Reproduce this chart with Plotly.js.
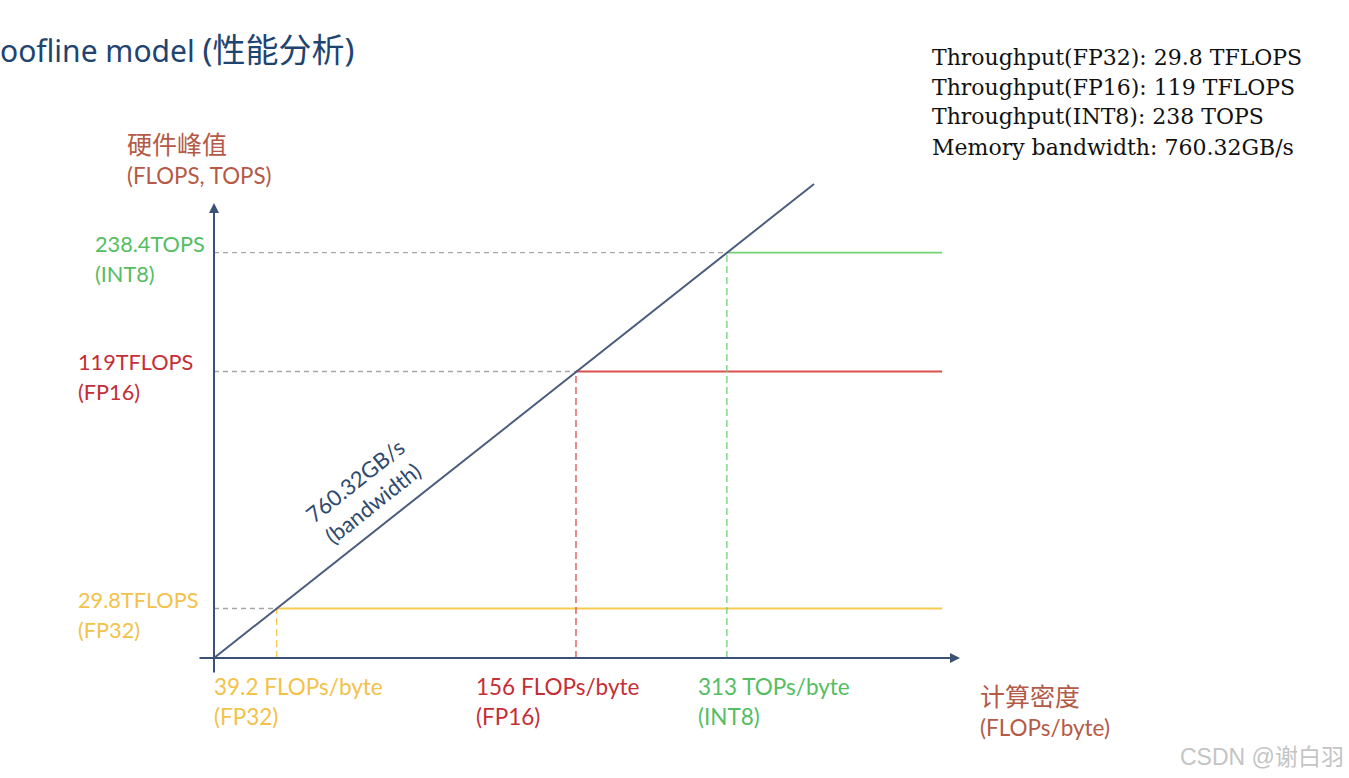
<!DOCTYPE html>
<html>
<head>
<meta charset="utf-8">
<script src="https://cdn.plot.ly/plotly-3.0.1.min.js"></script>
<style>html,body{margin:0;padding:0;background:#fff;}#chart{width:1349px;height:778px;}</style>
</head>
<body>
<div id="chart"></div>
<script>
// ---- data ----
const precisions   = ['FP32', 'FP16', 'INT8'];
const peakPerf     = [29.8, 119, 238.4];          // TFLOPS / TOPS
const peakLabels   = ['29.8TFLOPS', '119TFLOPS', '238.4TOPS'];
const ridgeIntens  = [39.2, 156, 313];            // FLOPs/byte at ridge point
const ridgeLabels  = ['39.2 FLOPs/byte', '156 FLOPs/byte', '313 TOPs/byte'];
const bandwidthGBs = 760.32;                      // GB/s
const specLines    = ['Throughput(FP32): 29.8 TFLOPS', 'Throughput(FP16): 119 TFLOPS',
                      'Throughput(INT8): 238 TOPS', 'Memory bandwidth: 760.32GB/s'];

// ---- styling / layout ----
const colors    = {FP32: '#F2C24A', FP16: '#C42E36', INT8: '#55BD62'};
const lineCols  = {FP32: '#F5CA4E', FP16: '#D9504C', INT8: '#74D074'};
const W = 1349, H = 778;
const L = 214, R = 980, T = 150, B = 658;
const xRange = [1.4677, 3.0028];
const yRange = [1.3487, 2.6374];
const xMin = Math.pow(10, xRange[0]);
const yMin = Math.pow(10, yRange[0]);
const roofEnd = 845;       // right extent of the flat roofs
const diagEnd = 468;       // right extent of the bandwidth slope
const bwT = bandwidthGBs / 1000;   // TB/s -> TFLOPS per FLOP/byte

const px = v => (v - L) / (R - L);
const py = v => (B - v) / (B - T);

const traces = [];
precisions.forEach((p, i) => {
  traces.push({x: [xMin, ridgeIntens[i]], y: [peakPerf[i], peakPerf[i]], mode: 'lines',
    line: {color: '#A6A6A6', width: 1.3, dash: '5px,4px'}});
  traces.push({x: [ridgeIntens[i], ridgeIntens[i]], y: [yMin, peakPerf[i]], mode: 'lines',
    line: {color: lineCols[p], width: 1.3, dash: '7px,4px'}});
  traces.push({x: [ridgeIntens[i], roofEnd], y: [peakPerf[i], peakPerf[i]], mode: 'lines',
    line: {color: lineCols[p], width: 1.8}});
});
traces.push({x: [xMin, diagEnd], y: [xMin * bwT, diagEnd * bwT], mode: 'lines',
  line: {color: '#4B5D7C', width: 2}});

const lab = "Lato, 'Noto Sans CJK SC', sans-serif";
const ann = [];
// axes arrows
ann.push({xref: 'paper', yref: 'paper', x: px(960), y: py(658), ax: -(960 - 198), ay: 0,
  showarrow: true, arrowhead: 2, arrowsize: 1, arrowwidth: 2, arrowcolor: '#3B5276', standoff: 0, text: ''});
ann.push({xref: 'paper', yref: 'paper', x: px(214), y: py(203), ax: 0, ay: 674 - 203,
  showarrow: true, arrowhead: 2, arrowsize: 1, arrowwidth: 2, arrowcolor: '#3B5276', standoff: 0, text: ''});

// peak labels (y side)
const peakLeft = [76, 76, 93];
precisions.forEach((p, i) => {
  ann.push({xref: 'paper', yref: 'y', x: px(peakLeft[i]), y: Math.log10(peakPerf[i]), xanchor: 'left', yanchor: 'middle',
    yshift: 9, showarrow: false, text: peakLabels[i], font: {family: lab, size: 21.7, color: colors[p]}});
  ann.push({xref: 'paper', yref: 'y', x: px(peakLeft[i]), y: Math.log10(peakPerf[i]), xanchor: 'left', yanchor: 'middle',
    yshift: -21, showarrow: false, text: '(' + p + ')', font: {family: lab, size: 21.7, color: colors[p]}});
});
// ridge labels (x side)
const ridgeLeft = [212, 474, 696];
precisions.forEach((p, i) => {
  ann.push({xref: 'paper', yref: 'paper', x: px(ridgeLeft[i]), y: py(686), xanchor: 'left', yanchor: 'middle',
    showarrow: false, text: ridgeLabels[i], font: {family: lab, size: 22.5, color: colors[p]}});
  ann.push({xref: 'paper', yref: 'paper', x: px(ridgeLeft[i]), y: py(716), xanchor: 'left', yanchor: 'middle',
    showarrow: false, text: '(' + p + ')', font: {family: lab, size: 22.5, color: colors[p]}});
});
// axis titles
const titleCol = '#B45A46';
ann.push({xref: 'paper', yref: 'paper', x: px(125), y: py(143), xanchor: 'left', yanchor: 'middle', showarrow: false,
  text: '硬件峰值', font: {family: "'Noto Sans CJK SC', sans-serif", size: 25, color: titleCol}});
ann.push({xref: 'paper', yref: 'paper', x: px(125), y: py(175), xanchor: 'left', yanchor: 'middle', showarrow: false,
  text: '(FLOPS, TOPS)', font: {family: lab, size: 22.3, color: titleCol}});
ann.push({xref: 'paper', yref: 'paper', x: px(978), y: py(695), xanchor: 'left', yanchor: 'middle', showarrow: false,
  text: '计算密度', font: {family: "'Noto Sans CJK SC', sans-serif", size: 25, color: titleCol}});
ann.push({xref: 'paper', yref: 'paper', x: px(978), y: py(727), xanchor: 'left', yanchor: 'middle', showarrow: false,
  text: '(FLOPs/byte)', font: {family: lab, size: 22.5, color: titleCol}});
// slope label
ann.push({xref: 'paper', yref: 'paper', x: px(364), y: py(492), xanchor: 'center', yanchor: 'middle', showarrow: false,
  textangle: -38.4, align: 'center', text: bandwidthGBs + 'GB/s<br>(bandwidth)',
  font: {family: lab, size: 22, color: '#2F4A70'}});
// page title (its first letter is cut off at the left edge of the original)
ann.push({xref: 'paper', yref: 'paper', x: px(-2), y: py(50), xanchor: 'left', yanchor: 'middle', showarrow: false,
  text: 'oofline model <span style="font-size:33px">(性能分析)</span>',
  font: {family: "'Noto Sans', 'Noto Sans CJK SC', sans-serif", size: 30, color: '#1F4470'}});
// spec lines
specLines.forEach((s, i) => {
  ann.push({xref: 'paper', yref: 'paper', x: px(930), y: py(57 + 30 * i), xanchor: 'left', yanchor: 'middle', showarrow: false,
    text: s, font: {family: "'DejaVu Serif', serif", size: 22, color: '#111111'}});
});
// watermark
ann.push({xref: 'paper', yref: 'paper', x: px(1346), y: py(757), xanchor: 'right', yanchor: 'middle', showarrow: false,
  text: 'CSDN @谢白羽', font: {family: "'Liberation Sans', 'Noto Sans CJK SC', sans-serif", size: 23, color: '#C4C4C4'}});

const layout = {
  width: W, height: H,
  margin: {l: L, r: W - R, t: T, b: H - B, pad: 0},
  paper_bgcolor: '#ffffff', plot_bgcolor: '#ffffff',
  showlegend: false, hovermode: false,
  xaxis: {type: 'log', range: xRange, showgrid: false, zeroline: false, showline: false,
          showticklabels: false, ticks: ''},
  yaxis: {type: 'log', range: yRange, showgrid: false, zeroline: false, showline: false,
          showticklabels: false, ticks: ''},
  annotations: ann
};
Plotly.newPlot('chart', traces, layout, {staticPlot: true, displayModeBar: false});
</script>
</body>
</html>
